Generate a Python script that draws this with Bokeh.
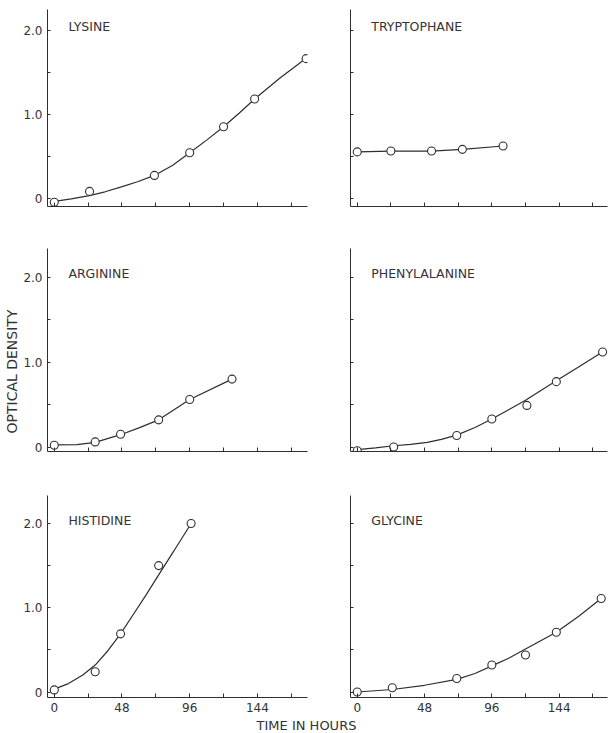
from bokeh.plotting import figure
from bokeh.layouts import column, row
from bokeh.models import FixedTicker, Range1d, Title
from bokeh.embed import file_html
from bokeh.resources import INLINE
from bokeh.core.properties import value

# ---------------- data ----------------
hour_major = [0, 48, 96, 144]
hour_minor = [24, 72, 120, 168]
od_major = [0, 1, 2]
od_minor = [0.5, 1.5]
od_labels = {0: "0", 1: "1.0", 2: "2.0"}

x_label = "TIME IN HOURS"
y_label = "OPTICAL DENSITY"

lysine_t = [0, 25, 71, 96, 120, 142, 178.5]
lysine_od = [-0.05, 0.08, 0.27, 0.54, 0.85, 1.18, 1.66]
lysine_curve_t = [0, 12, 25, 36, 47, 59, 71, 84, 96, 108, 120, 131, 142, 160, 179]
lysine_curve_od = [-0.04, -0.01, 0.03, 0.075, 0.13, 0.195, 0.27, 0.39, 0.54, 0.69,
                   0.85, 1.01, 1.18, 1.43, 1.67]

tryptophane_t = [0, 24, 53, 75, 104]
tryptophane_od = [0.55, 0.56, 0.56, 0.58, 0.62]

arginine_t = [0, 29, 47, 74, 96, 126]
arginine_od = [0.02, 0.06, 0.15, 0.32, 0.56, 0.80]
arginine_curve_t = [0, 16, 29, 47, 60, 74, 96, 126]
arginine_curve_od = [0.025, 0.027, 0.055, 0.145, 0.225, 0.32, 0.56, 0.80]

phenylalanine_t = [0, 26, 71, 96, 121, 142, 175]
phenylalanine_od = [-0.045, 0.0, 0.135, 0.33, 0.49, 0.77, 1.12]
phenylalanine_curve_t = [0, 13, 26, 38, 50, 60, 71, 84, 96, 108, 120, 131, 142, 159, 176]
phenylalanine_curve_od = [-0.03, -0.01, 0.015, 0.03, 0.055, 0.09, 0.14, 0.23, 0.33, 0.44,
                          0.55, 0.665, 0.78, 0.955, 1.13]

histidine_t = [0, 29, 47, 74, 97]
histidine_od = [0.025, 0.24, 0.69, 1.50, 2.0]
histidine_curve_t = [0, 10, 20, 29, 38, 47, 56, 65, 74, 85, 97]
histidine_curve_od = [0.035, 0.10, 0.20, 0.32, 0.49, 0.69, 0.92, 1.15, 1.39, 1.68, 2.0]

glycine_t = [0, 25, 71, 96, 120, 142, 174]
glycine_od = [0.0, 0.05, 0.16, 0.32, 0.44, 0.71, 1.11]
glycine_curve_t = [0, 25, 48, 71, 84, 96, 108, 120, 142, 158, 174]
glycine_curve_od = [0.0, 0.03, 0.08, 0.15, 0.22, 0.31, 0.40, 0.51, 0.71, 0.90, 1.11]

# ---------------- styling ----------------
INK = "#2e2e2e"
TXT = "#333333"
FONT = "DejaVu Sans"


def panel(title, t, od, ct, cod, left, bottom_labels, width, height,
          bl, br, bt, bb, xr, yr):
    p = figure(width=width, height=height, x_range=Range1d(*xr), y_range=Range1d(*yr),
               output_backend="svg", toolbar_location=None,
               min_border_left=bl, min_border_right=br,
               min_border_top=bt, min_border_bottom=bb)
    p.grid.visible = False
    p.outline_line_color = None
    p.background_fill_color = "white"
    p.border_fill_color = "white"

    xa = p.xaxis[0]
    xa.ticker = FixedTicker(ticks=hour_major, minor_ticks=hour_minor)
    xa.major_tick_in = 4
    xa.major_tick_out = 0
    xa.minor_tick_in = 4
    xa.minor_tick_out = 0
    xa.axis_line_color = INK
    xa.major_tick_line_color = INK
    xa.minor_tick_line_color = INK
    xa.major_label_text_font = FONT
    xa.major_label_text_font_size = "12px"
    xa.major_label_text_color = TXT if bottom_labels else None
    xa.major_label_standoff = 5

    ya = p.yaxis[0]
    ya.ticker = FixedTicker(ticks=od_major, minor_ticks=od_minor)
    ya.major_label_overrides = od_labels
    ya.major_tick_in = 3
    ya.major_tick_out = 0
    ya.minor_tick_in = 3
    ya.minor_tick_out = 0
    ya.axis_line_color = INK
    ya.major_tick_line_color = INK
    ya.minor_tick_line_color = INK
    ya.major_label_text_font = FONT
    ya.major_label_text_font_size = "12px"
    ya.major_label_text_color = TXT if left else None
    ya.major_label_standoff = 5

    if ct is not None:
        p.line(ct, cod, line_color=INK, line_width=1.2)
    else:
        p.line(t, od, line_color=INK, line_width=1.2)
    p.scatter(t, od, marker="circle", size=8, fill_color="white",
              line_color=INK, line_width=1.1)

    p.text(x=[10], y=[2.04], text=[title], text_font=value(FONT),
           text_font_size="12.5px", text_color=TXT,
           text_align="left", text_baseline="middle")
    return p


LW, RW = 318, 290
LXR = (-4.8, 179.5)
RXR = (-4.8, 178.5)
Y1 = (-0.10, 2.245)
Y2 = (-0.053, 2.339)
Y3 = (-0.065, 2.332)

p1 = panel("LYSINE", lysine_t, lysine_od, lysine_curve_t, lysine_curve_od,
           True, False, LW, 228, 47, 11, 9, 22, LXR, Y1)
p2 = panel("TRYPTOPHANE", tryptophane_t, tryptophane_od, None, None,
           False, False, RW, 228, 32, 1, 9, 22, RXR, Y1)
p3 = panel("ARGININE", arginine_t, arginine_od, arginine_curve_t, arginine_curve_od,
           True, False, LW, 245, 47, 11, 20, 22, LXR, Y2)
p4 = panel("PHENYLALANINE", phenylalanine_t, phenylalanine_od,
           phenylalanine_curve_t, phenylalanine_curve_od,
           False, False, RW, 245, 32, 1, 20, 22, RXR, Y2)
p5 = panel("HISTIDINE", histidine_t, histidine_od, histidine_curve_t, histidine_curve_od,
           True, True, LW, 243, 47, 11, 22, 19, LXR, Y3)
p6 = panel("GLYCINE", glycine_t, glycine_od, glycine_curve_t, glycine_curve_od,
           False, True, RW, 243, 32, 1, 22, 19, RXR, Y3)

p3.add_layout(Title(text=y_label, align="left", offset=18, standoff=2,
                    text_font=FONT, text_font_size="14px", text_font_style="normal",
                    text_color=TXT), "left")

strip = figure(width=608, height=17, x_range=Range1d(0, 608), y_range=Range1d(0, 17),
               output_backend="svg", toolbar_location=None,
               min_border=0)
strip.axis.visible = False
strip.grid.visible = False
strip.outline_line_color = None
strip.text(x=[306], y=[8], text=[x_label], text_font=value(FONT),
           text_font_size="13px", text_color=TXT,
           text_align="center", text_baseline="middle")

layout = column(row(p1, p2), row(p3, p4), row(p5, p6), strip)
open("out.html", "w").write(file_html(layout, INLINE))
